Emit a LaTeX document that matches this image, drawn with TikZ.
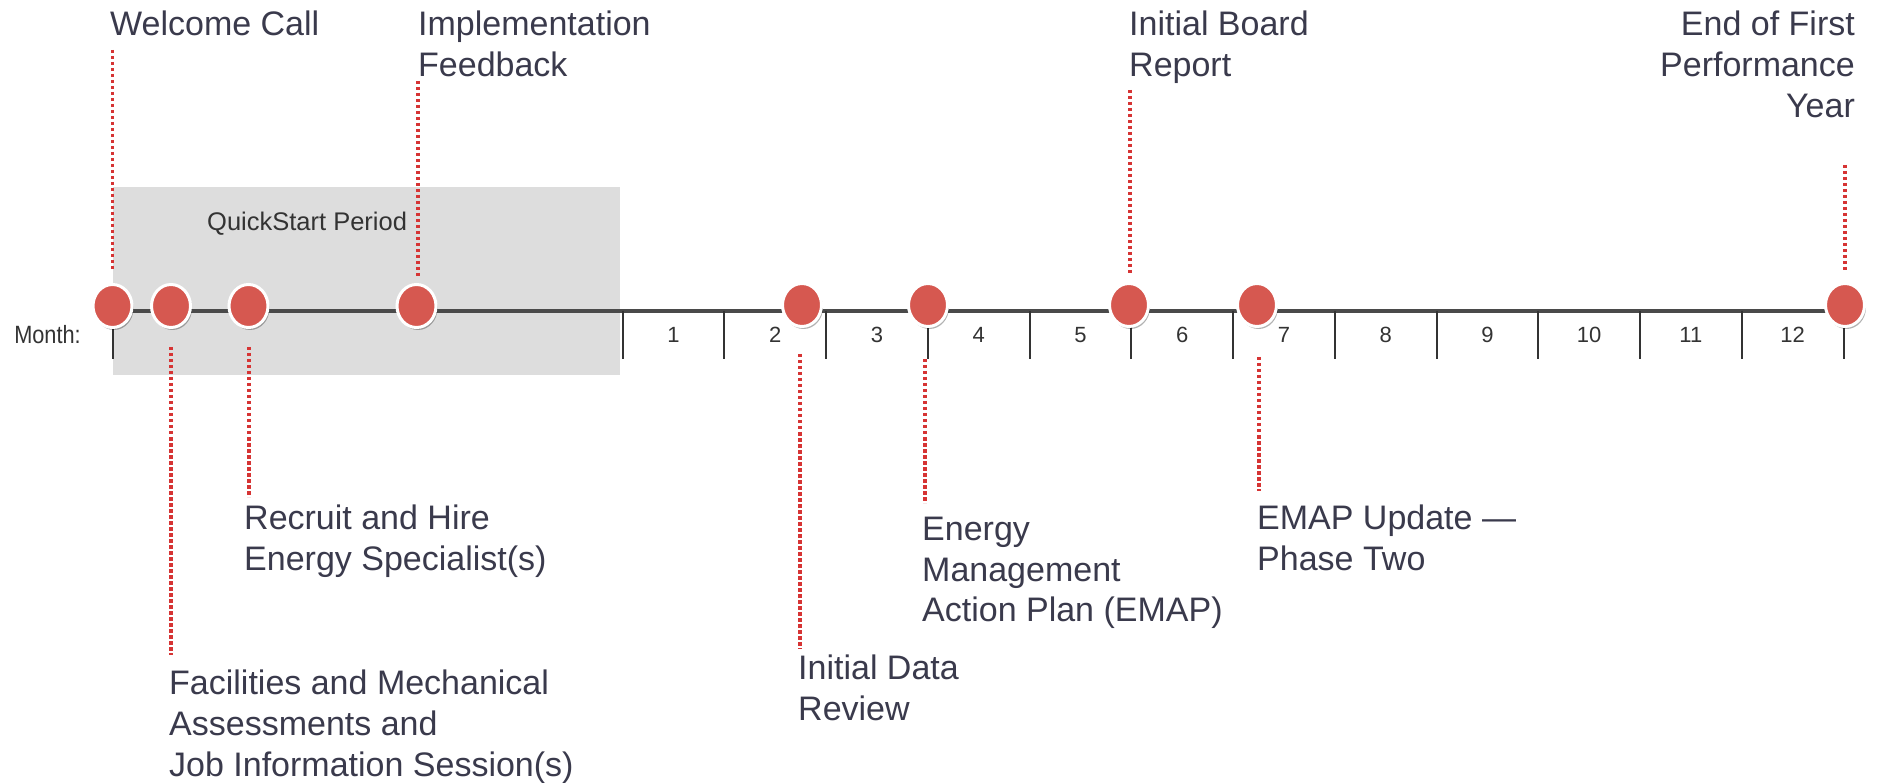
\documentclass[tikz,border=0pt]{standalone}
\usepackage{fontspec}
\setmainfont{Liberation Sans}
\usetikzlibrary{shapes.geometric,shadows}
\definecolor{txt}{RGB}{58,58,76}
\definecolor{dotred}{RGB}{214,52,52}
\definecolor{ballred}{RGB}{214,88,80}
\definecolor{boxgray}{RGB}{221,221,221}
\definecolor{axisgray}{RGB}{74,74,74}
\tikzset{
  ball/.style={ellipse, minimum width=39pt, minimum height=43pt, inner sep=0pt,
    fill=ballred, draw=white, line width=3pt,
    drop shadow={shadow xshift=1.5pt, shadow yshift=-2.5pt, opacity=.3, fill=black}},
  lead/.style={draw=dotred, line width=3.5pt, dash pattern=on 3.5pt off 2.5pt},
  lbl/.style={inner sep=0pt, align=left, text=txt, font=\fontsize{34}{40.7}\selectfont},
  monthlbl/.style={inner sep=0pt, text=black!80, font=\fontsize{22}{26}\selectfont},
  axisline/.style={draw=axisgray, line width=3.2pt},
  tickline/.style={draw=black!80, line width=2pt},
}
\begin{document}
\begin{tikzpicture}[x=1pt,y=-1pt]
\useasboundingbox[fill=white] (0,0) rectangle (1877,783);
% QuickStart box
\node[fill=boxgray, inner sep=0pt, minimum width=507.5pt, minimum height=188pt, anchor=north west] (qs) at (112.5,187) {};
\node[inner sep=0pt, anchor=north west, text=black!80, font=\fontsize{25.5}{30}\selectfont] (qslbl) at (207,212) {QuickStart Period};
% axis
\coordinate (axs) at (112.5,311);
\coordinate (axe) at (1843.5,311);
\draw[axisline] (axs) -- (axe);
\draw[tickline] (axs) -- ++(0,48);
\foreach \k in {0,...,12}{
  \coordinate (t\k) at ({622.5+101.75*\k},311);
  \draw[tickline] (t\k) -- ++(0,48);
}
\foreach \m in {1,...,12}{
  \node[monthlbl] (mo\m) at ({622.5+101.75*(\m-0.5)},335) {\m};
}
\node[inner sep=0pt, text=black!80, font=\fontsize{25}{30}\selectfont] (monthword) at (47.5,335) {\scalebox{0.87}[1]{Month:}};
% leader coordinates
\coordinate (w1) at (112.5,50);  \coordinate (w2) at (112.5,270);
\coordinate (i1) at (418,81);    \coordinate (i2) at (418,277);
\coordinate (b1) at (1130,90);   \coordinate (b2) at (1130,273);
\coordinate (y1) at (1845,165);  \coordinate (y2) at (1845,270);
\coordinate (f1) at (171,347);   \coordinate (f2) at (171,655);
\coordinate (r1) at (249,347);   \coordinate (r2) at (249,497);
\coordinate (d1) at (800,354);   \coordinate (d2) at (800,649);
\coordinate (p1) at (925,359);   \coordinate (p2) at (925,503);
\coordinate (u1) at (1259,357);  \coordinate (u2) at (1259,491);
\foreach \a in {w,i,b,y,f,r,d,p,u}{
  \draw[lead] (\a1) -- (\a2);
}
% event balls
\node[ball] (ewelcome) at (112.5,306) {};
\node[ball] (efacil)   at (171,306) {};
\node[ball] (erecruit) at (248.5,306) {};
\node[ball] (eimpl)    at (416.5,306) {};
\node[ball] (edata)    at (802,305) {};
\node[ball] (eemap)    at (928,305) {};
\node[ball] (eboard)   at (1129,305) {};
\node[ball] (eupd)     at (1257,305) {};
\node[ball] (eend)     at (1845,305) {};
% labels
\node[lbl, anchor=north west] (lwelcome) at (110,11) {Welcome Call};
\node[lbl, anchor=north west] (limpl) at (418,11) {Implementation\\Feedback};
\node[lbl, anchor=north west] (lboard) at (1129,11) {Initial Board\\Report};
\node[lbl, anchor=north east, align=right] (lend) at (1855,11) {End of First\\Performance\\Year};
\node[lbl, anchor=north west] (lrecruit) at (244,505) {Recruit and Hire\\Energy Specialist(s)};
\node[lbl, anchor=north west] (lfacil) at (169,670) {Facilities and Mechanical\\Assessments and\\Job Information Session(s)};
\node[lbl, anchor=north west] (ldata) at (798,655) {Initial Data\\Review};
\node[lbl, anchor=north west] (lemap) at (922,517) {Energy\\Management\\Action Plan (EMAP)};
\node[lbl, anchor=north west] (lupd) at (1257,505) {EMAP Update —\\Phase Two};
\end{tikzpicture}
\end{document}
